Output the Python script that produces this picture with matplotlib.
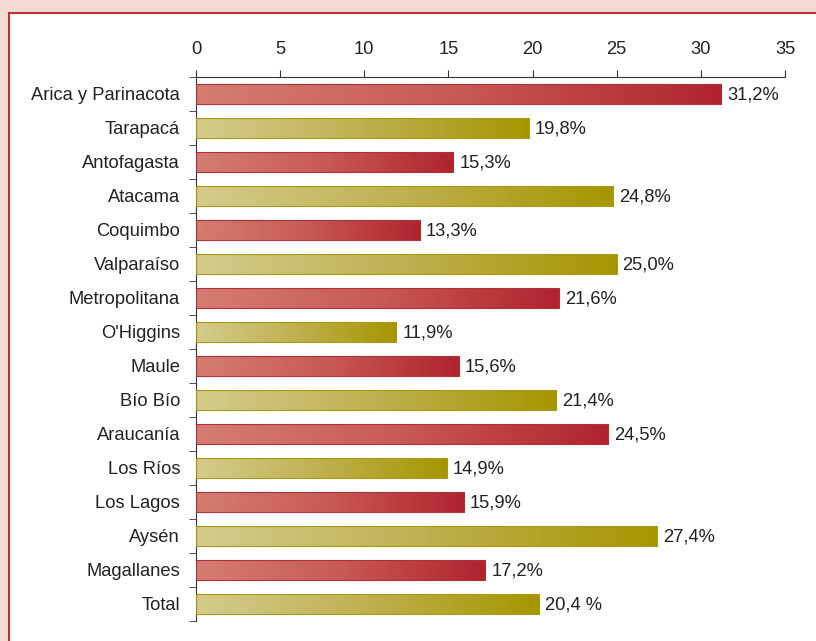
import matplotlib.pyplot as plt
import numpy as np
from matplotlib.colors import LinearSegmentedColormap
from matplotlib.patches import Rectangle

plt.rcParams['font.family'] = ['Liberation Sans', 'DejaVu Sans']

regiones = ["Arica y Parinacota", "Tarapacá", "Antofagasta", "Atacama", "Coquimbo",
            "Valparaíso", "Metropolitana", "O'Higgins", "Maule", "Bío Bío",
            "Araucanía", "Los Ríos", "Los Lagos", "Aysén", "Magallanes", "Total"]
valores = [31.2, 19.8, 15.3, 24.8, 13.3, 25.0, 21.6, 11.9, 15.6, 21.4,
           24.5, 14.9, 15.9, 27.4, 17.2, 20.4]
etiquetas = ["31,2%", "19,8%", "15,3%", "24,8%", "13,3%", "25,0%", "21,6%", "11,9%",
             "15,6%", "21,4%", "24,5%", "14,9%", "15,9%", "27,4%", "17,2%", "20,4 %"]

rojo = LinearSegmentedColormap.from_list("rojo", ["#d47d72", "#c85a55", "#b0232f"])
oliva = LinearSegmentedColormap.from_list("oliva", ["#d5cb8c", "#bfb050", "#a59600"])
borde_rojo = "#b0303a"
borde_oliva = "#a89a10"
fs = 13.2

fig = plt.figure(figsize=(8.16, 6.41), dpi=100)
fig.patch.set_facecolor("#f5dbd3")
# panel blanco con borde rojo
fig.patches.append(Rectangle((9 / 816, -0.01), 1.0, 1 - 13 / 641 + 0.01,
                             transform=fig.transFigure, facecolor="white",
                             edgecolor="#c0303a", linewidth=1.5, zorder=-5))

ax = fig.add_axes([196 / 816, 1 - 621 / 641, (785 - 196) / 816, (621 - 77) / 641])
ax.set_facecolor("none")
ax.set_zorder(5)

n = len(regiones)
y = np.arange(n)
h = 0.56
grad = np.linspace(0, 1, 256).reshape(1, -1)

for i, (v, lab) in enumerate(zip(valores, etiquetas)):
    cmap = rojo if i % 2 == 0 else oliva
    borde = borde_rojo if i % 2 == 0 else borde_oliva
    ax.imshow(grad, cmap=cmap, aspect="auto", extent=(0, v, i + h / 2, i - h / 2),
              interpolation="bilinear", zorder=2)
    ax.add_patch(Rectangle((0, i - h / 2), v, h, facecolor="none", edgecolor=borde,
                           linewidth=0.8, zorder=3))
    ax.text(v + 0.35, i + 0.03, lab, va="center", ha="left", fontsize=fs, color="#222222")

ax.set_xlim(0, 35)
ax.set_ylim(n - 0.5, -0.5)
ax.set_xticks(np.arange(0, 36, 5))
ax.xaxis.tick_top()
ax.tick_params(axis="x", which="major", length=5, pad=8.5, labelsize=fs,
               color="#333333", labelcolor="#222222")

ax.set_yticks(y)
ax.set_yticklabels(regiones)
ax.set_yticks(np.arange(-0.5, n, 1), minor=True)
ax.tick_params(axis="y", which="major", length=0, pad=11.5, labelsize=fs,
               labelcolor="#222222")
ax.tick_params(axis="y", which="minor", length=5, color="#333333")

for s in ["right", "bottom"]:
    ax.spines[s].set_visible(False)
ax.spines["top"].set_color("#333333")
ax.spines["left"].set_color("#333333")

fig.savefig("out.png", dpi=100, facecolor=fig.get_facecolor())
